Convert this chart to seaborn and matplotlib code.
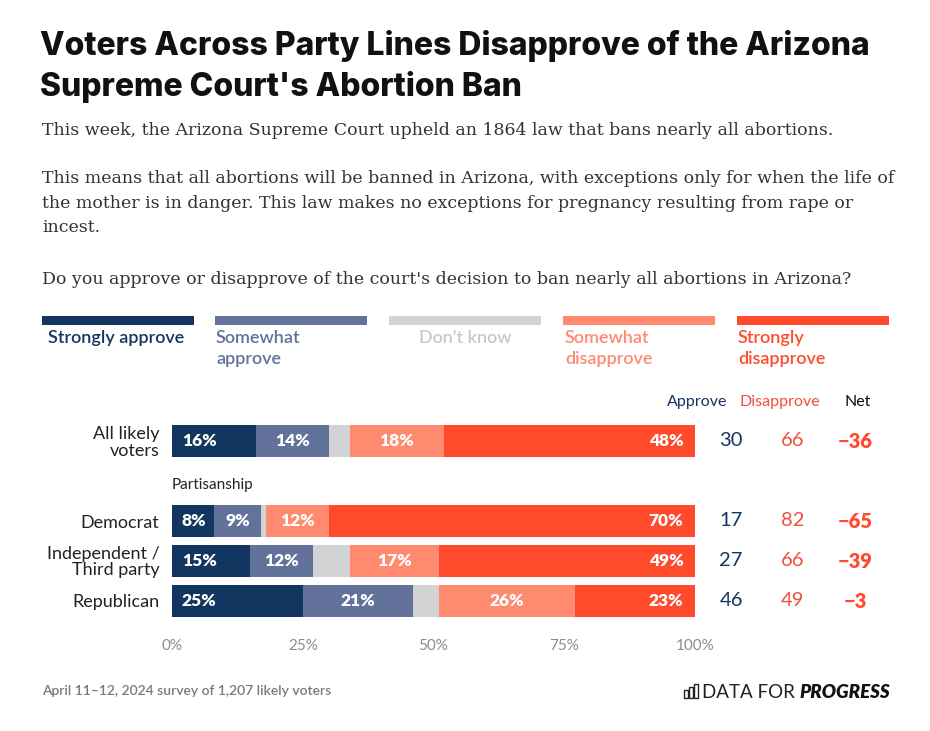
import numpy as np
import pandas as pd
import matplotlib.pyplot as plt
import seaborn as sns
from matplotlib.patches import Rectangle

# chart data
groups = ["All likely voters", "Democrat", "Independent / Third party", "Republican"]
group_labels = ["All likely\nvoters", "Democrat", "Independent /\nThird party", "Republican"]
segments = ["Strongly approve", "Somewhat approve", "Don't know",
            "Somewhat disapprove", "Strongly disapprove"]
legend_labels = ["Strongly approve", "Somewhat\napprove", "Don't know",
                 "Somewhat\ndisapprove", "Strongly\ndisapprove"]
strongly_approve = [16, 8, 15, 25]
somewhat_approve = [14, 9, 12, 21]
dont_know = [4, 1, 7, 5]
somewhat_disapprove = [18, 12, 17, 26]
strongly_disapprove = [48, 70, 49, 23]
approve_total = [30, 17, 27, 46]
disapprove_total = [66, 82, 66, 49]
net = [-36, -65, -39, -3]
x_ticks = [0, 25, 50, 75, 100]

colors = ["#12365f", "#63729a", "#d2d3d5", "#ff8a70", "#ff4a2b"]
label_colors = ["#12365f", "#63729a", "#c8c9cb", "#ff8a70", "#ff4a2b"]

sns.set_theme(style="white")
plt.rcParams['font.family'] = ['Lato', 'DejaVu Sans']

values = np.array([strongly_approve, somewhat_approve, dont_know,
                   somewhat_disapprove, strongly_disapprove])
cum = values.cumsum(axis=0)

# blank slot between the total row and the partisan rows
order = ["All likely voters", "gap", "Democrat", "Independent / Third party", "Republican"]
ypos = {g: order.index(g) for g in groups}

fig = plt.figure(figsize=(9.30, 7.31), dpi=100, facecolor="white")
ax = fig.add_axes([172 / 930, 1 - 621 / 731, 523 / 930, 200 / 731])

# stacked bars: draw cumulative totals from the widest down
for i in range(len(segments) - 1, -1, -1):
    df = pd.DataFrame({"group": groups, "cum": cum[i]})
    sns.barplot(data=df, x="cum", y="group", order=order, color=colors[i],
                width=0.8, saturation=1, errorbar=None, orient="h",
                linewidth=0, ax=ax)

# percentage labels inside bars
for j, g in enumerate(groups):
    y = ypos[g]
    for i in range(len(segments)):
        if i == 2:
            continue
        v = values[i, j]
        left = cum[i, j] - v
        if i == 0:
            x, ha = left + 1.9, "left"
        elif i == len(segments) - 1:
            x, ha = cum[i, j] - 2.2, "right"
        else:
            x, ha = left + v / 2, "center"
        ax.text(x, y, f"{v}%", ha=ha, va="center", color="white",
                fontsize=12.5, fontweight="heavy")

    ax.text(106.9, y, f"{approve_total[j]}", ha="center", va="center",
            color="#12365f", fontsize=14.5, clip_on=False)
    ax.text(118.7, y, f"{disapprove_total[j]}", ha="center", va="center",
            color="#f0503a", fontsize=14.5, clip_on=False)
    ax.text(130.6, y, f"\u2212{abs(net[j])}", ha="center", va="center",
            color="#ff4a2b", fontsize=14.5, fontweight="heavy", clip_on=False)

ax.text(100.4, -0.98, "Approve", ha="center", va="center", color="#12365f",
        fontsize=11.5, clip_on=False)
ax.text(116.3, -0.98, "Disapprove", ha="center", va="center", color="#f0503a",
        fontsize=11.5, clip_on=False)
ax.text(131.2, -0.98, "Net", ha="center", va="center", color="#111111",
        fontsize=11.5, clip_on=False)
ax.text(0, 1.1, "Partisanship", ha="left", va="center", color="#222222",
        fontsize=11)

ax.set_xlim(0, 100)
ax.set_ylim(4.5, -0.5)
ax.set_xticks(x_ticks)
ax.set_xticklabels([f"{t}%" for t in x_ticks], color="#8c8c8c", fontsize=11)
ax.set_yticks([ypos[g] for g in groups])
ax.set_yticklabels(group_labels, fontsize=13, color="#222222", linespacing=1.0)
for lbl in ax.get_yticklabels():
    lbl.set_multialignment("right")
ax.tick_params(axis="y", length=0, pad=9)
ax.tick_params(axis="x", length=0, pad=13)
ax.set_xlabel("")
ax.set_ylabel("")
sns.despine(ax=ax, left=True, bottom=True)

# legend swatches
leg_x0 = [42, 215, 389, 563, 737]
leg_text_x = [48, 216, 419, 565, 738]
for k in range(len(segments)):
    fig.patches.append(Rectangle((leg_x0[k] / 930, 1 - 325 / 731), 152 / 930, 9 / 731,
                                 transform=fig.transFigure, color=colors[k], lw=0))
    fig.text(leg_text_x[k] / 930, 1 - 330 / 731, legend_labels[k], ha="left", va="top",
             color=label_colors[k], fontsize=13, fontweight="semibold", linespacing=1.35)

# title and subtitle
title_font = ["Inter", "Lato", "DejaVu Sans"]
fig.text(40 / 930, 1 - 55 / 731, "Voters Across Party Lines Disapprove of the Arizona",
         family=title_font, fontsize=23, fontweight="heavy", color="#111111", va="baseline")
fig.text(40 / 930, 1 - 96 / 731, "Supreme Court's Abortion Ban",
         family=title_font, fontsize=23, fontweight="heavy", color="#111111", va="baseline")
serif = ["DejaVu Serif"]
sub_lines = [
    (135, "This week, the Arizona Supreme Court upheld an 1864 law that bans nearly all abortions."),
    (183, "This means that all abortions will be banned in Arizona, with exceptions only for when the life of"),
    (207.5, "the mother is in danger. This law makes no exceptions for pregnancy resulting from rape or"),
    (232, "incest."),
    (284, "Do you approve or disapprove of the court's decision to ban nearly all abortions in Arizona?"),
]
for yb, s in sub_lines:
    fig.text(42 / 930, 1 - yb / 731, s, family=serif, fontsize=12.5, color="#333333",
             va="baseline")

# footer
fig.text(42 / 930, 1 - 695 / 731, "April 11\u201312, 2024 survey of 1,207 likely voters",
         fontsize=10, fontweight="semibold", color="#7a7a7a", va="baseline")
for bx, bh in [(684, 8), (689, 11), (694, 14)]:
    fig.patches.append(Rectangle((bx / 930, 1 - 698 / 731), 4 / 930, bh / 731,
                                 transform=fig.transFigure, fill=False, ec="#222222", lw=1))
fig.text(890 / 930, 1 - 698 / 731, "PROGRESS", ha="right", va="baseline",
         fontsize=13.5, fontweight="heavy", style="italic", color="#111111")
fig.text(795 / 930, 1 - 698 / 731, "DATA FOR", ha="right", va="baseline",
         fontsize=13.5, fontweight="normal", color="#222222")

fig.savefig("out.png", dpi=100, facecolor="white")
